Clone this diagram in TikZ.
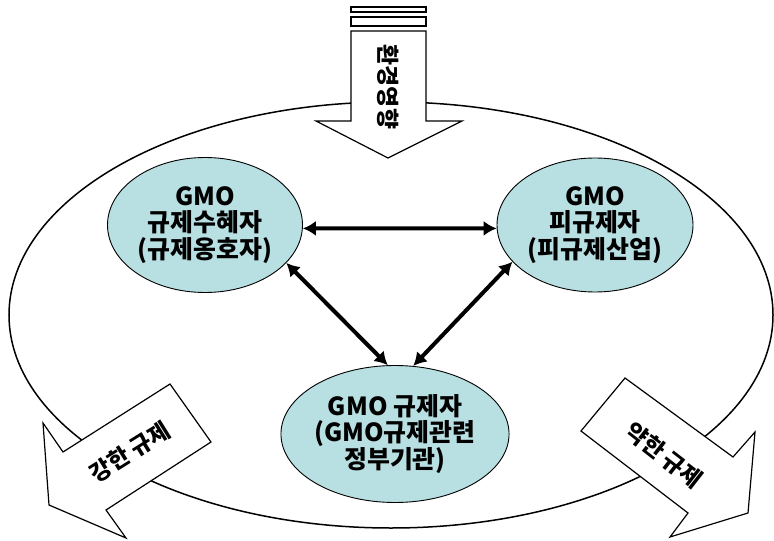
\documentclass[tikz,border=0pt]{standalone}
\usepackage{fontspec}
\newfontfamily\kr{Noto Sans CJK KR}
\usepackage{tikz}
\usetikzlibrary{shapes,arrows.meta,positioning}
\definecolor{nodefill}{RGB}{184,223,226}
\tikzstyle{party} = [ellipse,draw,fill=nodefill,line width=0.9bp,inner sep=0pt,align=center,font=\kr\bfseries\fontsize{25}{26.5}\selectfont]
\tikzstyle{blockarrow} = [draw,fill=white,line width=1.2bp,line join=miter]
\tikzstyle{arrowtext} = [font=\kr\bfseries\fontsize{23}{25}\selectfont,inner sep=0pt]
\tikzstyle{link} = [<->,line width=4bp]
\tikzset{>={Latex[length=13bp,width=15bp]}}

\begin{document}
\begin{tikzpicture}[x=1bp,y=-1bp]
    \useasboundingbox (0,0) rectangle (774,541);
    % outer boundary
    \draw [line width=1.5bp] (391,315) ellipse [x radius=382bp, y radius=213bp];

    % environmental influence from above
    \draw [blockarrow] (351,7) rectangle (426,12);
    \draw [blockarrow] (351,17) rectangle (426,26);
    \draw [blockarrow] (351,31) -- (426,31) -- (426,121) -- (462,121) -- (388,158) -- (316,121) -- (351,121) -- cycle;
    \node [arrowtext,rotate=-90] (env) at (388,87) {환경영향};

    % strong and weak regulation
    \draw [blockarrow] (170,384) -- (211,442) -- (106,510) -- (126,538) -- (49,505) -- (43,423) -- (63,452) -- cycle;
    \node [arrowtext,rotate=32] (strong) at (130,452) {강한 규제};
    \draw [blockarrow] (625,378) -- (733,457) -- (755,432) -- (748,513) -- (670,537) -- (688,513) -- (581,431) -- cycle;
    \node [arrowtext,rotate=-38] (weak) at (664,455) {약한 규제};

    % actors
    \node [party,minimum width=195bp,minimum height=135bp] (benef) at (205,225) {GMO\\규제수혜자\\(규제옹호자)};
    \node [party,minimum width=196bp,minimum height=134bp] (industry) at (595,225) {GMO\\피규제자\\(피규제산업)};
    \node [party,minimum width=184bp,minimum height=137bp] (gov) at (395,434) {GMO 규제자\\(GMO규제관련\\정부기관)};

    \draw [link] (benef.-2) -- (industry.182);
    \draw [link] (benef.-25) -- (gov.96);
    \draw [link] (industry.204) -- (gov.75);
\end{tikzpicture}
\end{document}
